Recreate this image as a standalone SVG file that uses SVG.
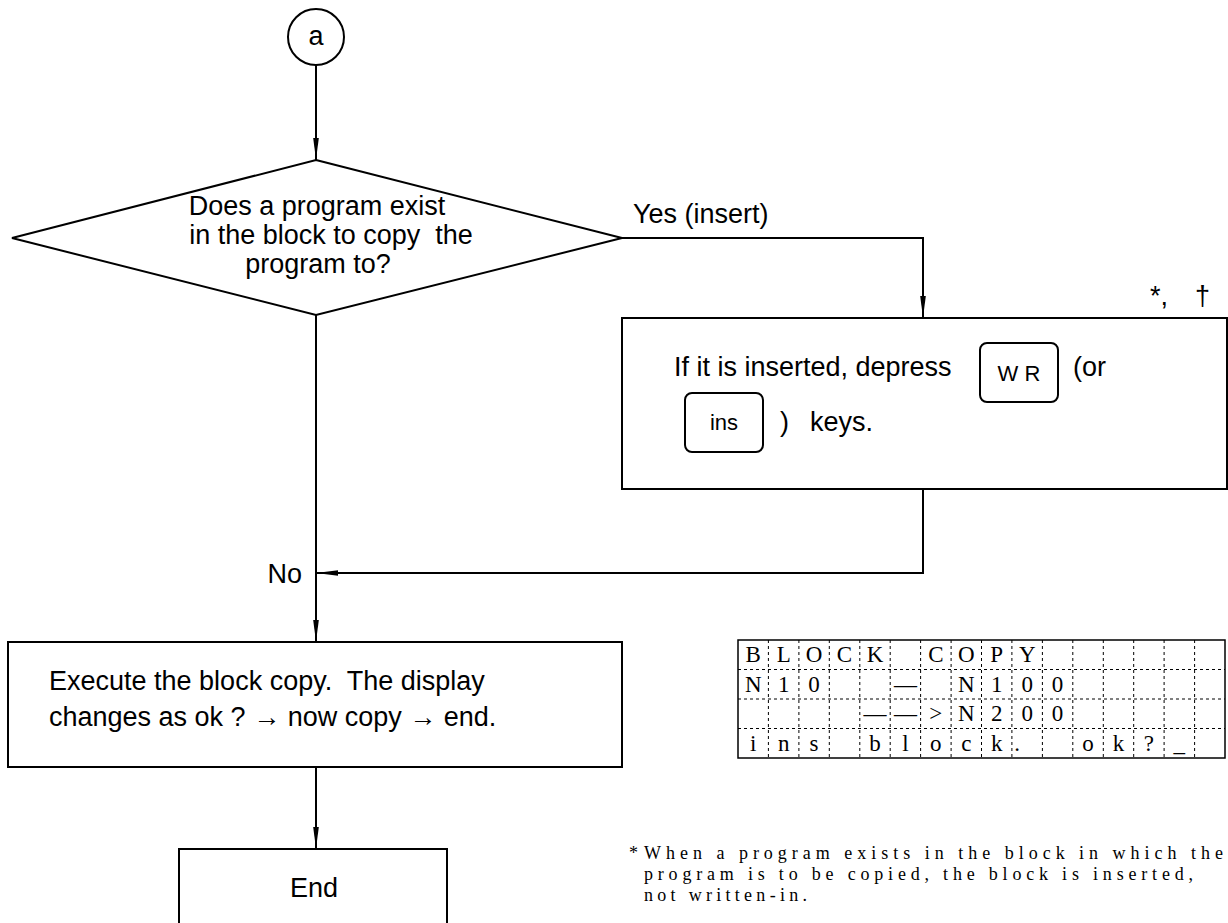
<svg xmlns="http://www.w3.org/2000/svg" width="1228" height="923" viewBox="0 0 1228 923">
<defs>
<marker id="arr" markerUnits="userSpaceOnUse" markerWidth="22" markerHeight="8" refX="22" refY="4" orient="auto">
<path d="M0,1.2 L22,4 L0,6.8 z" fill="#000"/>
</marker>
<style>
.ln{fill:none;stroke:#000;stroke-width:2}
.sh{fill:#fff;stroke:#000;stroke-width:2}
.t{font-family:"Liberation Sans",Arial,sans-serif;font-size:27px;fill:#000}
.c{text-anchor:middle}
.k{font-family:"Liberation Sans",Arial,sans-serif;font-size:22px;fill:#000;text-anchor:middle}
.lcd{font-family:"Liberation Serif","Times New Roman",serif;font-size:23px;fill:#000;text-anchor:middle}
.fn{font-family:"Liberation Serif","Times New Roman",serif;font-size:18px;fill:#000}
.g{stroke:#000;stroke-width:1;stroke-dasharray:3,3;fill:none}
</style>
</defs>
<rect width="1228" height="923" fill="#fff"/>
<g id="connectors">
<path class="ln" d="M316,65 V160" marker-end="url(#arr)"/>
<path class="ln" d="M622,238 H923 V318" marker-end="url(#arr)"/>
<path class="ln" d="M316,315 V642" marker-end="url(#arr)"/>
<path class="ln" d="M923,489 V573 H316" marker-end="url(#arr)"/>
<path class="ln" d="M316,767 V849" marker-end="url(#arr)"/>
<text class="t" x="633" y="223">Yes (insert)</text>
<text class="t" x="302" y="583" text-anchor="end">No</text>
</g>
<g id="start">
<circle class="sh" cx="316" cy="37" r="28"/>
<text class="t c" x="316" y="45" font-size="26">a</text>
</g>
<g id="decision">
<polygon class="sh" points="316,160 622,238 316,315 12,238"/>
<text class="t c" x="317" y="215">Does a program exist</text>
<text class="t c" x="331" y="244" xml:space="preserve">in the block to copy  the</text>
<text class="t c" x="318" y="273">program to?</text>
</g>
<g id="insert">
<rect class="sh" x="622" y="318" width="605" height="171"/>
<text class="t" x="1150" y="305">*,</text>
<text class="t" x="1195" y="305">†</text>
<text class="t" x="674" y="376">If it is inserted, depress</text>
<rect class="sh" x="980" y="343" width="78" height="59" rx="7"/>
<text class="k" x="1019" y="381" xml:space="preserve">W R</text>
<text class="t" x="1073" y="376">(or</text>
<rect class="sh" x="685" y="393" width="78" height="59" rx="7"/>
<text class="k" x="724" y="430">ins</text>
<text class="t" x="780" y="431">)</text>
<text class="t" x="810" y="431">keys.</text>
</g>
<g id="execute">
<rect class="sh" x="8" y="642" width="614" height="125"/>
<text class="t" x="49" y="690" xml:space="preserve">Execute the block copy.  The display</text>
<text class="t" x="49" y="726">changes as ok ? → now copy → end.</text>
</g>
<g id="end">
<rect class="sh" x="179" y="849" width="268" height="80"/>
<text class="t c" x="314" y="897" font-size="25">End</text>
</g>
<g id="display">
<rect x="738" y="640" width="487" height="118" fill="#fff" stroke="#000" stroke-width="1.5"/>
<path class="g" d="M738,669.5H1225M738,699H1225M738,728.5H1225M768.4,640V758M798.9,640V758M829.3,640V758M859.8,640V758M890.2,640V758M920.6,640V758M951.1,640V758M981.5,640V758M1011.9,640V758M1042.4,640V758M1072.8,640V758M1103.3,640V758M1133.7,640V758M1164.1,640V758M1194.6,640V758"/>
<g class="lcd">
<text x="753.2" y="662">B</text><text x="783.7" y="662">L</text><text x="814.1" y="662">O</text><text x="844.5" y="662">C</text><text x="875" y="662">K</text><text x="935.8" y="662">C</text><text x="966.3" y="662">O</text><text x="996.7" y="662">P</text><text x="1027.2" y="662">Y</text>
<text x="753.2" y="691.5">N</text><text x="783.7" y="691.5">1</text><text x="814.1" y="691.5">0</text><text x="905.4" y="691.5">—</text><text x="966.3" y="691.5">N</text><text x="996.7" y="691.5">1</text><text x="1027.2" y="691.5">0</text><text x="1057.6" y="691.5">0</text>
<text x="875" y="721">—</text><text x="905.4" y="721">—</text><text x="935.8" y="721">&gt;</text><text x="966.3" y="721">N</text><text x="996.7" y="721">2</text><text x="1027.2" y="721">0</text><text x="1057.6" y="721">0</text>
<text x="753.2" y="750.5">i</text><text x="783.7" y="750.5">n</text><text x="814.1" y="750.5">s</text><text x="875" y="750.5">b</text><text x="905.4" y="750.5">l</text><text x="935.8" y="750.5">o</text><text x="966.3" y="750.5">c</text><text x="996.7" y="750.5">k</text><text x="1017" y="750.5">.</text><text x="1088" y="750.5">o</text><text x="1118.5" y="750.5">k</text><text x="1148.9" y="750.5">?</text><text x="1179.3" y="750.5">_</text>
</g>
</g>
<g id="footnote">
<text class="fn" x="629" y="859">*</text>
<text class="fn" x="644" y="859" textLength="579" lengthAdjust="spacing">When a program exists in the block in which the</text>
<text class="fn" x="644" y="880" textLength="549" lengthAdjust="spacing">program is to be copied, the block is inserted,</text>
<text class="fn" x="644" y="901" textLength="163" lengthAdjust="spacing">not written-in.</text>
</g>
</svg>
